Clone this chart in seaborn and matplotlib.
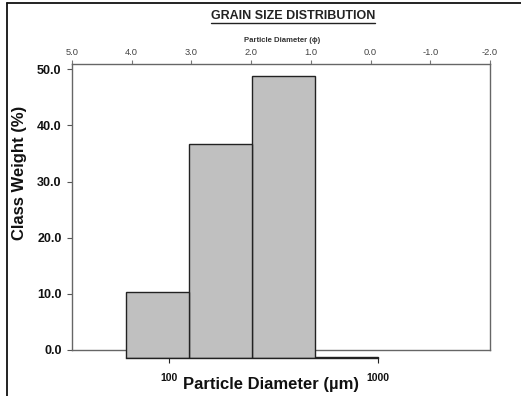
import numpy as np
import pandas as pd
import matplotlib
matplotlib.use("Agg")
import matplotlib.pyplot as plt
from matplotlib.lines import Line2D
import seaborn as sns

# Sieve class limits (µm) and weight retained in each class (%)
class_edges_um = [62.5, 125, 250, 500, 1000]
class_weight = [11.8, 38.1, 50.2, 0.3]
phi_ticks = [5.0, 4.0, 3.0, 2.0, 1.0, 0.0, -1.0, -2.0]
weight_ticks = [0, 10, 20, 30, 40, 50]
um_ticks = [100, 1000]
um_tick_labels = ["100", "1000"]


def um_to_phi(d):
    """Krumbein phi scale: phi = -log2(d / 1 mm)."""
    return -np.log2(np.asarray(d, dtype=float) / 1000.0)


phi_edges = um_to_phi(class_edges_um)
edges_phi = sorted(float(v) for v in phi_edges)
mids_phi = (phi_edges[:-1] + phi_edges[1:]) / 2
df = pd.DataFrame({"phi": mids_phi, "weight": class_weight})

sns.set_style("ticks")
plt.rcParams["font.family"] = ["Liberation Sans", "DejaVu Sans"]
plt.rcParams["axes.unicode_minus"] = False

W, H = 521, 396
fig = plt.figure(figsize=(W / 100, H / 100), dpi=100)
fig.patch.set_facecolor("white")


def fx(px):
    return px / W


def fy(py):
    return 1 - py / H


ax_w = fx(490) - fx(72)
ax_h = fy(64) - fy(350)

# Frame with the phi scale on top and the class-weight axis on the left
frame = fig.add_axes([fx(72), fy(350), ax_w, ax_h])
# Histogram panel, sitting slightly below the frame, with the µm scale
bars = fig.add_axes([fx(72), fy(358.3), ax_w, ax_h], zorder=3)

frame.set_facecolor("white")
frame.set_xlim(5.0, -2.0)
frame.set_ylim(0, 50.94)
frame.xaxis.tick_top()
frame.set_xticks(phi_ticks, labels=[f"{v:.1f}" for v in phi_ticks])
frame.set_yticks(weight_ticks, labels=[f"{v:.1f}" for v in weight_ticks],
                 fontweight="bold")
frame.tick_params(axis="x", which="both", top=True, bottom=False,
                  direction="out", length=3, width=0.8, color="#777777",
                  labelsize=6.7, labelcolor="#444444", pad=2)
frame.tick_params(axis="y", left=True, right=False, direction="out",
                  length=3.5, width=0.8, color="#555555", labelsize=9,
                  labelcolor="#111111", pad=4)
for s in frame.spines.values():
    s.set_visible(True)
    s.set_color("#666666")
    s.set_linewidth(1.0)
frame.set_xlabel("")
frame.set_ylabel("")

sns.histplot(data=df, x="phi", weights="weight", bins=edges_phi, ax=bars,
             stat="count", color="#c0c0c0", edgecolor="#222222",
             linewidth=1.0, alpha=1.0)
bars.set_xlim(4.866, -1.781)
bars.set_ylim(0, 50.94)
bars.patch.set_alpha(0)
for name, s in bars.spines.items():
    s.set_visible(name == "bottom")
bars.spines["bottom"].set_bounds(0, 4)
bars.spines["bottom"].set_color("#222222")
bars.spines["bottom"].set_linewidth(1.0)
bars.set_yticks([])
bars.set_xticks(um_to_phi(um_ticks), labels=um_tick_labels,
                fontweight="bold", fontsize=7.5)
bars.tick_params(axis="x", direction="out", length=3.6, width=0.8,
                 color="#222222", pad=7, labelcolor="#111111")
bars.set_xlabel("")
bars.set_ylabel("")

title = fig.text(fx(293), fy(16), "GRAIN SIZE DISTRIBUTION", ha="center",
                 va="center", fontsize=9, fontweight="bold", color="#222222")
fig.text(fx(282), fy(40), "Particle Diameter (\u03d5)", ha="center",
         va="center", fontsize=5.6, fontweight="bold", color="#333333")
fig.text(fx(20), fy(173), "Class Weight (%)", ha="center", va="center",
         rotation=90, fontsize=12, fontweight="bold", color="#111111")
fig.text(fx(271), fy(384), "Particle Diameter (\u00b5m)", ha="center",
         va="center", fontsize=12, fontweight="bold", color="#111111")

# Page border on the left and top
fig.add_artist(Line2D([fx(7), fx(7)], [0, fy(3)], transform=fig.transFigure,
                      color="#111111", linewidth=1.3))
fig.add_artist(Line2D([fx(7), 1], [fy(3), fy(3)], transform=fig.transFigure,
                      color="#111111", linewidth=1.3))

# Underline the title
fig.canvas.draw()
bb = title.get_window_extent()
inv = fig.transFigure.inverted()
(x0, y0), (x1, _) = inv.transform([(bb.x0, bb.y0 - 1.5), (bb.x1, bb.y0)])
fig.add_artist(Line2D([x0, x1], [y0, y0], transform=fig.transFigure,
                      color="#222222", linewidth=1.0))

fig.savefig("out.png", dpi=100)
